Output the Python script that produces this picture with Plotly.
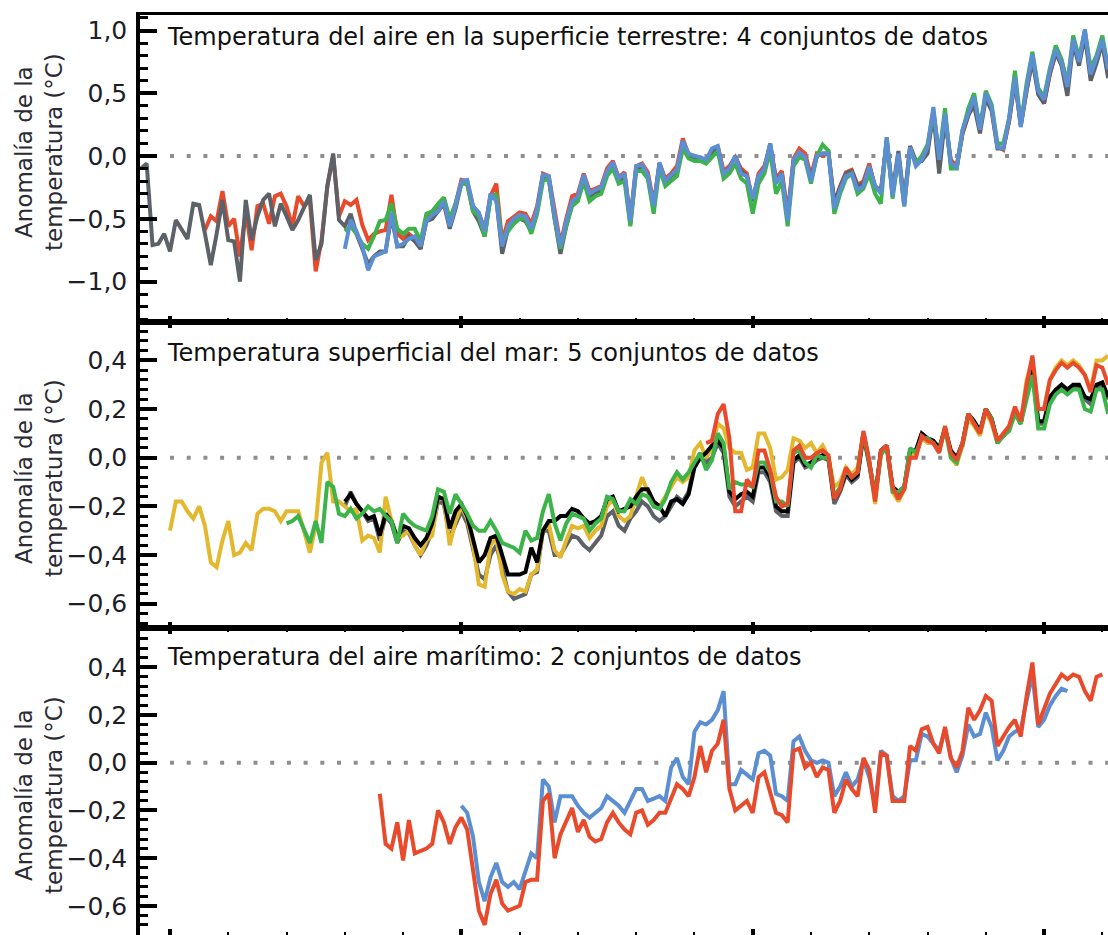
import plotly.graph_objects as go

# ---------------- DATA ----------------
# Panel 1: land surface air temperature (4 datasets)
land_gray_start = 1845
land_gray = [
    -0.10, -0.06, -0.71, -0.70, -0.62,
    -0.76, -0.51, -0.59, -0.66, -0.38, -0.39, -0.62, -0.87, -0.62, -0.35,
    -0.67, -0.68, -1.00, -0.35, -0.67, -0.48, -0.35, -0.30, -0.56, -0.38,
    -0.48, -0.59, -0.51, -0.40, -0.31, -0.83, -0.70, -0.24, 0.02, -0.51,
    -0.56, -0.46, -0.62, -0.74, -0.86, -0.80, -0.76, -0.76, -0.48, -0.72,
    -0.72, -0.64, -0.68, -0.74, -0.52, -0.50, -0.44, -0.38, -0.58, -0.42,
    -0.22, -0.22, -0.44, -0.52, -0.64, -0.32, -0.34, -0.78, -0.58, -0.52,
    -0.50, -0.52, -0.60, -0.44, -0.16, -0.18, -0.50, -0.78, -0.56, -0.38,
    -0.34, -0.16, -0.32, -0.30, -0.28, -0.14, -0.06, -0.20, -0.16, -0.54,
    -0.10, -0.08, -0.16, -0.42, -0.06, -0.22, -0.16, -0.12, 0.10, 0.00,
    -0.02, -0.04, -0.04, 0.04, 0.06, -0.14, -0.10, 0.00, -0.12, -0.16,
    -0.36, -0.16, -0.10, 0.10, -0.20, -0.14, -0.50, -0.04, 0.02, -0.02,
    -0.18, 0.00, 0.02, 0.02, -0.36, -0.24, -0.14, -0.12, -0.24, -0.22,
    -0.08, -0.24, -0.28, 0.12, -0.28, 0.04, -0.36, 0.08, -0.04, -0.04,
    0.02, 0.34, -0.14, 0.30, -0.06, -0.10, 0.18, 0.33, 0.40, 0.18,
    0.46, 0.36, 0.06, 0.06, 0.28, 0.60, 0.24, 0.52, 0.76, 0.49,
    0.42, 0.66, 0.82, 0.72, 0.48, 0.90, 0.72, 0.96, 0.60, 0.74,
    0.90, 0.62,
]
land_red_start = 1856
land_red = [
    -0.59, -0.48, -0.52, -0.28,
    -0.56, -0.50, -0.80, -0.44, -0.75, -0.40, -0.38, -0.54, -0.32, -0.30,
    -0.40, -0.56, -0.32, -0.40, -0.35, -0.92, -0.67, -0.24, 0.00, -0.48,
    -0.36, -0.39, -0.35, -0.55, -0.67, -0.62, -0.60, -0.59, -0.31, -0.62,
    -0.66, -0.62, -0.66, -0.74, -0.48, -0.44, -0.42, -0.34, -0.52, -0.38,
    -0.19, -0.20, -0.40, -0.46, -0.58, -0.32, -0.22, -0.68, -0.52, -0.48,
    -0.45, -0.46, -0.54, -0.40, -0.14, -0.16, -0.44, -0.70, -0.50, -0.32,
    -0.30, -0.14, -0.28, -0.26, -0.24, -0.10, -0.04, -0.17, -0.13, -0.50,
    -0.08, -0.06, -0.13, -0.38, -0.06, -0.18, -0.14, -0.08, 0.14, 0.01,
    0.00, -0.03, -0.04, 0.03, 0.08, -0.12, -0.08, -0.01, -0.10, -0.14,
    -0.36, -0.14, -0.08, 0.08, -0.18, -0.12, -0.46, -0.02, 0.06, 0.02,
    -0.16, 0.02, 0.00, 0.03, -0.38, -0.24, -0.13, -0.11, -0.23, -0.20,
    -0.06, -0.26, -0.28, 0.12, -0.30, 0.00, -0.37, 0.06, -0.06, -0.02,
    0.05, 0.35, -0.01, 0.30, -0.03, -0.08, 0.18, 0.32, 0.44, 0.24,
    0.47, 0.38, 0.08, 0.05, 0.28, 0.60, 0.25, 0.52, 0.78, 0.52,
    0.42, 0.65, 0.82, 0.76, 0.57, 0.90, 0.78, 0.96, 0.66, 0.76,
    0.90, 0.64,
]
land_green_start = 1880
land_green = [
    -0.60, -0.56, -0.62, -0.70, -0.74, -0.64, -0.52, -0.51, -0.38, -0.58,
    -0.62, -0.58, -0.58, -0.68, -0.46, -0.44, -0.38, -0.33, -0.50, -0.38,
    -0.22, -0.22, -0.44, -0.48, -0.64, -0.34, -0.30, -0.70, -0.60, -0.54,
    -0.50, -0.50, -0.62, -0.46, -0.20, -0.18, -0.50, -0.74, -0.56, -0.40,
    -0.36, -0.20, -0.36, -0.32, -0.30, -0.16, -0.10, -0.22, -0.20, -0.56,
    -0.12, -0.12, -0.18, -0.46, -0.10, -0.24, -0.20, -0.16, 0.06, -0.02,
    -0.04, -0.04, -0.06, -0.01, 0.04, -0.18, -0.14, -0.06, -0.18, -0.22,
    -0.46, -0.22, -0.14, 0.04, -0.30, -0.20, -0.56, -0.08, -0.01, -0.03,
    -0.22, 0.00, 0.09, 0.04, -0.46, -0.30, -0.18, -0.14, -0.30, -0.26,
    -0.14, -0.30, -0.38, 0.15, -0.34, 0.00, -0.40, 0.06, -0.06, 0.00,
    0.09, 0.36, 0.00, 0.38, -0.10, -0.10, 0.20, 0.38, 0.50, 0.22,
    0.52, 0.41, 0.10, 0.10, 0.30, 0.68, 0.25, 0.58, 0.83, 0.54,
    0.47, 0.70, 0.88, 0.77, 0.58, 0.96, 0.78, 1.00, 0.70, 0.80,
    0.96, 0.70,
]
land_blue_start = 1880
land_blue = [
    -0.74, -0.51, -0.60, -0.72, -0.91, -0.80, -0.78, -0.76, -0.45, -0.72,
    -0.70, -0.66, -0.64, -0.72, -0.52, -0.47, -0.44, -0.36, -0.56, -0.40,
    -0.20, -0.19, -0.40, -0.45, -0.60, -0.30, -0.36, -0.72, -0.56, -0.50,
    -0.47, -0.48, -0.58, -0.42, -0.15, -0.16, -0.47, -0.72, -0.52, -0.36,
    -0.32, -0.15, -0.30, -0.27, -0.25, -0.12, -0.05, -0.18, -0.14, -0.52,
    -0.08, -0.07, -0.15, -0.40, -0.05, -0.20, -0.15, -0.11, 0.12, 0.02,
    0.00, -0.01, -0.03, 0.06, 0.08, -0.14, -0.10, 0.00, -0.14, -0.16,
    -0.34, -0.16, -0.10, 0.10, -0.22, -0.14, -0.52, -0.03, 0.03, -0.01,
    -0.20, 0.00, 0.02, 0.02, -0.42, -0.27, -0.16, -0.14, -0.27, -0.24,
    -0.08, -0.24, -0.30, 0.15, -0.32, 0.02, -0.40, 0.07, -0.08, -0.03,
    0.07, 0.39, -0.03, 0.34, -0.06, -0.09, 0.21, 0.35, 0.47, 0.21,
    0.50, 0.39, 0.07, 0.06, 0.30, 0.63, 0.23, 0.55, 0.81, 0.52,
    0.45, 0.68, 0.85, 0.74, 0.55, 0.93, 0.75, 1.01, 0.65, 0.78,
    0.93, 0.69,
]

# Panel 2: sea surface temperature (5 datasets)
sst_yellow_start = 1850
sst_yellow = [
    -0.30, -0.18, -0.18, -0.22, -0.25, -0.20, -0.28, -0.43, -0.45, -0.34,
    -0.26, -0.40, -0.39, -0.35, -0.38, -0.23, -0.21, -0.21, -0.22, -0.26,
    -0.22, -0.22, -0.22, -0.30, -0.39, -0.28, -0.02, 0.02, -0.18, -0.18,
    -0.20, -0.22, -0.21, -0.34, -0.32, -0.33, -0.39, -0.16, -0.26, -0.33,
    -0.32, -0.30, -0.36, -0.40, -0.34, -0.32, -0.16, -0.17, -0.36, -0.26,
    -0.20, -0.25, -0.36, -0.52, -0.53, -0.36, -0.33, -0.48, -0.55, -0.56,
    -0.54, -0.55, -0.48, -0.46, -0.30, -0.27, -0.38, -0.41, -0.34, -0.28,
    -0.29, -0.28, -0.33, -0.30, -0.28, -0.20, -0.17, -0.24, -0.26, -0.24,
    -0.16, -0.08, -0.14, -0.20, -0.20, -0.16, -0.12, -0.08, -0.10, -0.08,
    0.03, 0.06, 0.00, 0.04, 0.14, 0.12, 0.04, 0.02, 0.02, -0.05,
    -0.04, 0.10, 0.10, 0.04, -0.09, -0.08, -0.05, 0.08, 0.07, 0.04,
    0.06, 0.02, 0.05, 0.00, -0.12, -0.10, -0.04, -0.07, -0.04, 0.10,
    -0.02, -0.19, 0.02, 0.05, -0.14, -0.18, -0.13, 0.02, 0.01, 0.08,
    0.06, 0.06, 0.03, 0.13, 0.00, -0.03, 0.05, 0.16, 0.13, 0.09,
    0.19, 0.14, 0.06, 0.09, 0.13, 0.19, 0.14, 0.32, 0.40, 0.20,
    0.20, 0.32, 0.37, 0.40, 0.38, 0.40, 0.38, 0.34, 0.28, 0.40,
    0.40, 0.42,
]
sst_green_start = 1870
sst_green = [
    -0.27, -0.26, -0.24, -0.30, -0.35, -0.26, -0.35, -0.10, -0.12, -0.23,
    -0.24, -0.21, -0.25, -0.23, -0.20, -0.22, -0.21, -0.24, -0.26, -0.35,
    -0.23, -0.26, -0.28, -0.29, -0.30, -0.24, -0.13, -0.14, -0.23, -0.15,
    -0.19, -0.23, -0.28, -0.30, -0.30, -0.26, -0.30, -0.35, -0.36, -0.37,
    -0.39, -0.30, -0.34, -0.33, -0.22, -0.15, -0.27, -0.34, -0.27, -0.23,
    -0.24, -0.25, -0.30, -0.27, -0.25, -0.16, -0.17, -0.22, -0.22, -0.17,
    -0.19, -0.15, -0.16, -0.20, -0.21, -0.17, -0.10, -0.06, -0.09, -0.06,
    -0.02, 0.02, -0.05, -0.01, 0.10, 0.06, -0.13, -0.10, -0.11, -0.11,
    -0.12, -0.02, -0.02, -0.06, -0.18, -0.18, -0.20, 0.02, 0.03, -0.02,
    -0.04, 0.01, 0.00, 0.00, -0.16, -0.12, -0.05, -0.08, -0.06, 0.10,
    -0.02, -0.16, 0.01, 0.05, -0.14, -0.14, -0.12, 0.04, 0.02, 0.08,
    0.08, 0.06, 0.03, 0.12, 0.00, -0.02, 0.06, 0.18, 0.14, 0.10,
    0.20, 0.16, 0.06, 0.09, 0.11, 0.18, 0.14, 0.24, 0.34, 0.12,
    0.12, 0.22, 0.26, 0.28, 0.26, 0.28, 0.28, 0.20, 0.19, 0.28,
    0.28, 0.18,
]
sst_gray_start = 1880
sst_gray = [
    -0.20, -0.14, -0.19, -0.22, -0.26, -0.25, -0.34, -0.24, -0.27, -0.35,
    -0.30, -0.31, -0.36, -0.40, -0.36, -0.30, -0.18, -0.19, -0.33, -0.27,
    -0.22, -0.27, -0.38, -0.48, -0.50, -0.40, -0.36, -0.45, -0.55, -0.58,
    -0.57, -0.56, -0.48, -0.47, -0.30, -0.30, -0.40, -0.40, -0.36, -0.32,
    -0.33, -0.36, -0.38, -0.35, -0.32, -0.24, -0.22, -0.28, -0.30, -0.25,
    -0.22, -0.18, -0.20, -0.24, -0.26, -0.24, -0.20, -0.16, -0.18, -0.14,
    -0.02, 0.00, -0.02, 0.00, 0.06, 0.02, -0.16, -0.20, -0.18, -0.16,
    -0.18, -0.06, -0.06, -0.10, -0.22, -0.24, -0.24, -0.02, 0.00, -0.04,
    -0.03, -0.01, 0.00, -0.01, -0.19, -0.14, -0.07, -0.10, -0.08, 0.09,
    -0.03, -0.17, 0.02, 0.04, -0.13, -0.15, -0.13, 0.02, 0.02, 0.10,
    0.07, 0.06, 0.03, 0.12, 0.02, -0.01, 0.05, 0.17, 0.14, 0.10,
    0.20, 0.16, 0.06, 0.09, 0.12, 0.19, 0.14, 0.28, 0.36, 0.14,
    0.14, 0.24, 0.27, 0.29, 0.27, 0.29, 0.29, 0.24, 0.22, 0.29,
    0.30, 0.24,
]
sst_black_start = 1880
sst_black = [
    -0.18, -0.15, -0.19, -0.22, -0.25, -0.24, -0.32, -0.23, -0.26, -0.33,
    -0.28, -0.29, -0.33, -0.36, -0.33, -0.27, -0.16, -0.17, -0.29, -0.22,
    -0.19, -0.24, -0.33, -0.43, -0.40, -0.33, -0.32, -0.40, -0.48, -0.48,
    -0.48, -0.47, -0.37, -0.43, -0.30, -0.26, -0.26, -0.24, -0.24, -0.21,
    -0.22, -0.25, -0.27, -0.26, -0.24, -0.17, -0.16, -0.22, -0.21, -0.20,
    -0.16, -0.13, -0.13, -0.18, -0.20, -0.24, -0.18, -0.17, -0.19, -0.15,
    -0.04, 0.00, 0.02, 0.05, 0.07, 0.04, -0.14, -0.17, -0.15, -0.14,
    -0.16, -0.04, -0.04, -0.08, -0.20, -0.22, -0.22, -0.01, 0.01, -0.03,
    -0.02, 0.00, 0.01, 0.00, -0.17, -0.13, -0.06, -0.09, -0.07, 0.10,
    -0.02, -0.16, 0.03, 0.05, -0.12, -0.14, -0.12, 0.03, 0.03, 0.10,
    0.08, 0.07, 0.04, 0.12, 0.03, 0.00, 0.06, 0.18, 0.15, 0.11,
    0.20, 0.16, 0.07, 0.09, 0.12, 0.19, 0.14, 0.28, 0.36, 0.15,
    0.15, 0.25, 0.28, 0.30, 0.28, 0.30, 0.30, 0.25, 0.24, 0.30,
    0.31, 0.25,
]
sst_red_start = 1942
sst_red = [
    0.06, 0.07, 0.18, 0.22, 0.08, -0.22, -0.22, -0.09,
    -0.12, 0.03, 0.03, -0.05, -0.16, -0.20, -0.19, 0.03, 0.05, 0.00,
    0.00, 0.02, 0.03, 0.01, -0.17, -0.13, -0.04, -0.08, -0.06, 0.11,
    -0.01, -0.18, 0.03, 0.05, -0.12, -0.17, -0.13, 0.00, 0.00, 0.09,
    0.07, 0.06, 0.02, 0.13, 0.02, -0.01, 0.06, 0.18, 0.14, 0.10,
    0.20, 0.15, 0.07, 0.10, 0.13, 0.21, 0.15, 0.30, 0.42, 0.20,
    0.20, 0.32, 0.36, 0.39, 0.37, 0.39, 0.37, 0.34, 0.27, 0.38,
    0.37, 0.30,
]

# Panel 3: marine air temperature (2 datasets)
mat_red_start = 1886
mat_red = [
    -0.13, -0.34, -0.36, -0.25,
    -0.41, -0.24, -0.38, -0.37, -0.36, -0.34, -0.20, -0.25, -0.34, -0.27,
    -0.23, -0.28, -0.44, -0.62, -0.68, -0.55, -0.49, -0.59, -0.62, -0.61,
    -0.60, -0.50, -0.49, -0.49, -0.16, -0.13, -0.40, -0.30, -0.24, -0.19,
    -0.29, -0.24, -0.31, -0.33, -0.32, -0.25, -0.21, -0.25, -0.28, -0.30,
    -0.21, -0.20, -0.26, -0.24, -0.21, -0.21, -0.15, -0.09, -0.11, -0.14,
    -0.06, 0.07, -0.04, 0.05, 0.08, 0.18, -0.11, -0.20, -0.18, -0.16,
    -0.21, -0.06, -0.04, -0.12, -0.21, -0.22, -0.25, 0.05, 0.06, -0.02,
    0.00, -0.06, -0.02, -0.03, -0.21, -0.16, -0.07, -0.11, -0.14, 0.02,
    -0.03, -0.21, 0.04, 0.03, -0.16, -0.16, -0.16, 0.07, 0.05, 0.14,
    0.15, 0.08, 0.04, 0.15, 0.02, -0.02, 0.05, 0.23, 0.18, 0.22,
    0.28, 0.26, 0.07, 0.11, 0.15, 0.18, 0.11, 0.28, 0.42, 0.16,
    0.22, 0.29, 0.33, 0.37, 0.35, 0.37, 0.36, 0.30, 0.26, 0.36,
    0.37,
]
mat_blue_start = 1900
mat_blue = [
    -0.18, -0.21, -0.31, -0.50, -0.58, -0.48, -0.42, -0.50, -0.52, -0.50,
    -0.53, -0.45, -0.38, -0.40, -0.07, -0.10, -0.25, -0.14, -0.14, -0.14,
    -0.18, -0.21, -0.23, -0.21, -0.19, -0.14, -0.16, -0.18, -0.21, -0.16,
    -0.11, -0.11, -0.16, -0.15, -0.14, -0.16, -0.02, 0.02, -0.06, -0.09,
    0.13, 0.17, 0.16, 0.18, 0.22, 0.30, -0.09, -0.09, -0.03, -0.05,
    -0.07, 0.04, 0.05, 0.03, -0.13, -0.14, -0.16, 0.09, 0.11, 0.05,
    0.01, 0.00, 0.01, 0.00, -0.14, -0.10, -0.04, -0.10, -0.07, 0.01,
    -0.06, -0.18, 0.05, 0.03, -0.14, -0.16, -0.14, 0.01, 0.01, 0.12,
    0.11, 0.08, 0.05, 0.14, 0.02, -0.04, 0.03, 0.16, 0.11, 0.12,
    0.21, 0.15, 0.01, 0.05, 0.11, 0.13, 0.14, 0.26, 0.37, 0.15,
    0.18, 0.24, 0.28, 0.31, 0.30,
]

panel_titles = [
    "Temperatura del aire en la superficie terrestre: 4 conjuntos de datos",
    "Temperatura superficial del mar: 5 conjuntos de datos",
    "Temperatura del aire marítimo: 2 conjuntos de datos",
]
y_title = "Anomalía de la<br>temperatura (°C)"
p1_tickvals = [-1.0, -0.5, 0.0, 0.5, 1.0]
p1_ticktext = ["\u22121,0", "\u22120,5", "0,0", "0,5", "1,0"]
p23_tickvals = [-0.6, -0.4, -0.2, 0.0, 0.2, 0.4]
p23_ticktext = ["\u22120,6", "\u22120,4", "\u22120,2", "0,0", "0,2", "0,4"]

# ---------------- STYLE ----------------
C_BLUE = "#5b8fd2"
C_RED = "#e84a2c"
C_GREEN = "#3cb44a"
C_GRAY = "#5d6168"
C_YELLOW = "#e3b82e"
C_BLACK = "#000000"
LW = 4
FONT = "DejaVu Sans"

fig = go.Figure()


def add_series(xa, ya, start, vals, color):
    fig.add_trace(go.Scatter(
        x=list(range(start, start + len(vals))), y=vals, mode="lines",
        line=dict(color=color, width=LW), xaxis=xa, yaxis=ya,
        showlegend=False, hoverinfo="skip"))


# Panel 1
add_series("x", "y", land_red_start, land_red, C_RED)
add_series("x", "y", land_gray_start, land_gray, C_GRAY)
add_series("x", "y", land_green_start, land_green, C_GREEN)
add_series("x", "y", land_blue_start, land_blue, C_BLUE)
# Panel 2
add_series("x2", "y2", sst_gray_start, sst_gray, C_GRAY)
add_series("x2", "y2", sst_yellow_start, sst_yellow, C_YELLOW)
add_series("x2", "y2", sst_black_start, sst_black, C_BLACK)
add_series("x2", "y2", sst_green_start, sst_green, C_GREEN)
add_series("x2", "y2", sst_red_start, sst_red, C_RED)
# Panel 3
add_series("x3", "y3", mat_blue_start, mat_blue, C_BLUE)
add_series("x3", "y3", mat_red_start, mat_red, C_RED)

XR = [1844.85, 2010.97]
d1 = [0.66663, 1.0]
d2 = [0.33337, 0.66663]
d3 = [0.0, 0.33337]


def xaxis(anchor, mirror):
    return dict(
        range=XR, domain=[0, 1], anchor=anchor, showline=True, linecolor="black",
        linewidth=3, mirror=mirror, ticks="inside", tick0=1850, dtick=50,
        ticklen=6, tickwidth=3.5, tickcolor="black", showticklabels=False,
        showgrid=False, zeroline=False,
        minor=dict(tick0=1850, dtick=10, ticks="inside", ticklen=3.5,
                   tickwidth=2, tickcolor="black", showgrid=False),
    )


def yaxis(anchor, dom, rng, tv, tt, mdt):
    return dict(
        domain=dom, range=rng, anchor=anchor, showline=True, linecolor="black",
        linewidth=3.5, ticks="inside", tickvals=tv, ticktext=tt, ticklen=17,
        tickwidth=4, tickcolor="black", showgrid=False, zeroline=False,
        tickfont=dict(family=FONT, size=25, color="#1e1e28"),
        ticklabelstandoff=4,
        minor=dict(tick0=0, dtick=mdt, ticks="inside", ticklen=8, tickwidth=2.5,
                   tickcolor="black", showgrid=False),
    )


fig.update_layout(
    width=1108, height=935,
    margin=dict(l=140, r=0, t=15, b=0),
    paper_bgcolor="white", plot_bgcolor="white",
    showlegend=False,
    xaxis=xaxis("y", True),
    xaxis2=xaxis("y2", "ticks"),
    xaxis3=xaxis("y3", "ticks"),
    yaxis=yaxis("x", d1, [-1.3203, 1.1235], p1_tickvals, p1_ticktext, 0.1),
    yaxis2=yaxis("x2", d2, [-0.701, 0.559], p23_tickvals, p23_ticktext, 0.04),
    yaxis3=yaxis("x3", d3, [-0.722, 0.5635], p23_tickvals, p23_ticktext, 0.04),
)

# dotted zero lines
for xr, yr in [("x", "y"), ("x2", "y2"), ("x3", "y3")]:
    fig.add_shape(type="line", xref=xr, yref=yr, x0=1850, x1=XR[1], y0=0, y1=0,
                  line=dict(color="#8e8e8e", width=4, dash="4px,12.7px"),
                  layer="below")

# panel titles
for txt, yp in zip(panel_titles, [0.9761, 0.6326, 0.3022]):
    fig.add_annotation(text=txt, xref="paper", yref="paper", x=0.0258, y=yp,
                       xanchor="left", yanchor="middle", showarrow=False,
                       font=dict(family=FONT, size=24, color="#111111"))

# y-axis titles
for yp in [0.8511, 0.4967, 0.1522]:
    fig.add_annotation(text=y_title, xref="paper", yref="paper", x=-0.1043, y=yp,
                       xanchor="center", yanchor="middle", textangle=-90,
                       showarrow=False,
                       font=dict(family=FONT, size=23, color="#2b2b33"))

fig.write_html("out.html")
